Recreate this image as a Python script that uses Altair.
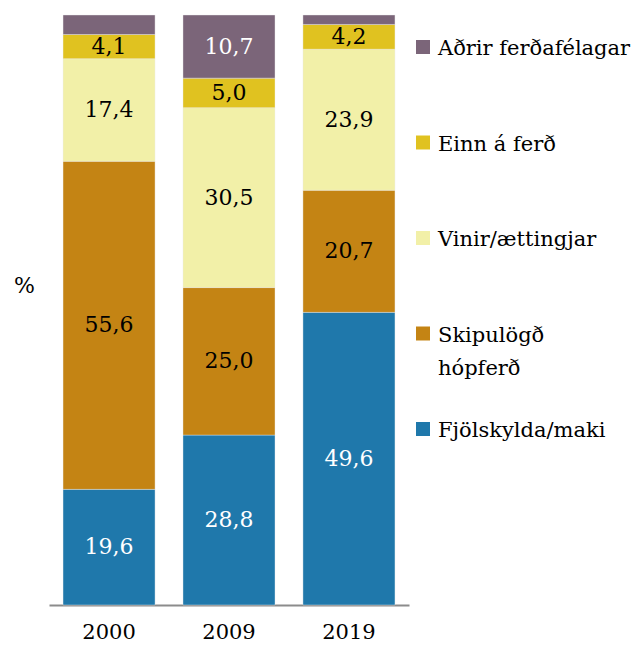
import altair as alt
import pandas as pd

years = ["2000", "2009", "2019"]
categories = ["Fjölskylda/maki", "Skipulögð hópferð", "Vinir/ættingjar", "Einn á ferð", "Aðrir ferðafélagar"]
legend_labels = ["Fjölskylda/maki", "Skipulögð\nhópferð", "Vinir/ættingjar", "Einn á ferð", "Aðrir ferðafélagar"]
colors = ["#1f78ab", "#c48414", "#f2f0a8", "#e0c220", "#7b6579"]
fam = [19.6, 28.8, 49.6]
grp = [55.6, 25.0, 20.7]
fri = [17.4, 30.5, 23.9]
alone = [4.1, 5.0, 4.2]
other = [3.3, 10.7, 1.6]
series = [fam, grp, fri, alone, other]

rows = []
for ci, (cat, vals) in enumerate(zip(categories, series)):
    for yr, v in zip(years, vals):
        rows.append({"year": yr, "cat": cat, "idx": ci, "value": v,
                     "label": (f"{v:.1f}".replace(".", ",") if v >= 4 else "")})
df = pd.DataFrame(rows)

FONT = "DejaVu Serif"
FS = 22
LFS = 21

color_scale = alt.Scale(domain=categories, range=colors)

base = alt.Chart(df).transform_stack(
    stack="value", groupby=["year"], as_=["y0", "y1"], sort=[alt.SortField("idx")]
).transform_calculate(mid="(datum.y0 + datum.y1) / 2")

x_enc = alt.X("year:N", sort=years, title=None,
              scale=alt.Scale(paddingInner=0.233, paddingOuter=0.117),
              axis=alt.Axis(labelAngle=0, ticks=False, domainColor="#8c8c8c", domainWidth=2,
                            labelFontSize=21, labelFont=FONT, labelColor="#000000", labelPadding=16))

bars = base.mark_bar(stroke="#eeeeee", strokeWidth=0.4).encode(
    x=x_enc,
    y=alt.Y("y0:Q", scale=alt.Scale(domain=[0, 100], nice=False),
            axis=alt.Axis(labels=False, ticks=False, domain=False, grid=False, title="%",
                          titleAngle=0, titleFont=FONT, titleFontSize=FS, titleFontWeight="normal",
                          titleX=-25, titleY=270, titleAlign="center", titleBaseline="middle",
                          titleColor="#000000")),
    y2="y1:Q",
    color=alt.Color("cat:N", scale=color_scale, legend=None),
)

texts = base.mark_text(font=FONT, fontSize=FS, baseline="middle").encode(
    x=alt.X("year:N", sort=years),
    y=alt.Y("mid:Q"),
    text="label:N",
    color=alt.condition(
        "datum.cat == 'Fjölskylda/maki' || datum.cat == 'Aðrir ferðafélagar'",
        alt.value("#ffffff"), alt.value("#000000")),
)

main = alt.layer(bars, texts).properties(width=360, height=590,
                                         view=alt.ViewBackground(stroke="transparent"))

leg_df = pd.DataFrame({"cat": categories, "lab": legend_labels})
leg_order = categories[::-1]
y_leg = alt.Y("cat:N", sort=leg_order,
              scale=alt.Scale(type="point", domain=leg_order, range=[32, 414], padding=0), axis=None)

leg_sq = alt.Chart(leg_df).mark_square(size=196, opacity=1).encode(
    x=alt.value(12), y=y_leg,
    color=alt.Color("cat:N", scale=color_scale, legend=None),
)
leg_tx = alt.Chart(leg_df).mark_text(font=FONT, fontSize=LFS, align="left", baseline="alphabetic",
                                     dy=8, lineBreak="\n", lineHeight=33, color="#000000").encode(
    x=alt.value(27), y=y_leg, text="lab:N",
)
legend = alt.layer(leg_sq, leg_tx).properties(width=215, height=590,
                                              view=alt.ViewBackground(stroke="transparent"))

chart = alt.hconcat(main, legend, spacing=0).properties(
    padding={"left": 5, "top": 0, "right": 0, "bottom": 0}
).configure_view(strokeWidth=0, stroke="transparent").configure(
    font=FONT, background="#ffffff")

chart.save("out.html", embed_options={"renderer": "svg", "actions": False})
